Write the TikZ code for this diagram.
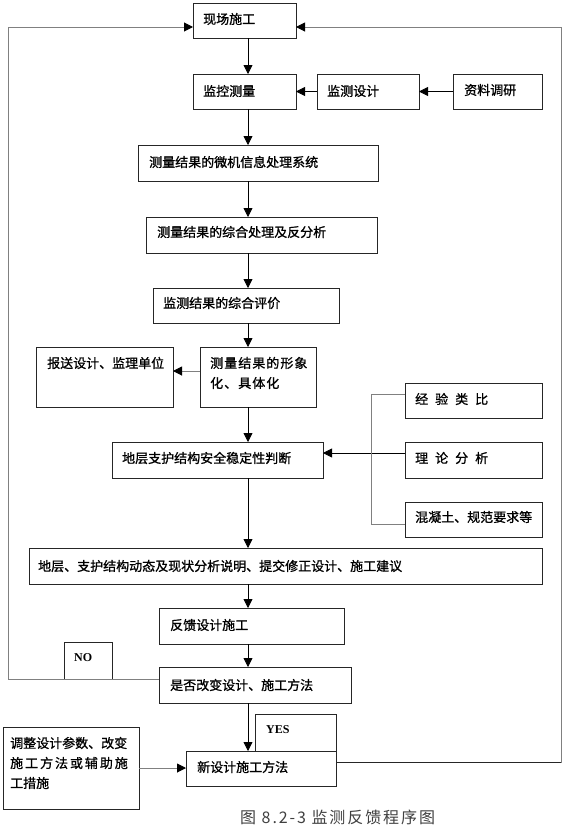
\documentclass[tikz,border=0pt]{standalone}
\usepackage{fontspec}
\usetikzlibrary{arrows.meta,calc}
\newfontfamily\cjk{Noto Sans CJK SC}[FakeBold=1]
\newfontfamily\cjkcap{Noto Sans CJK SC}
\newfontfamily\latser{Liberation Serif}
\begin{document}
\begin{tikzpicture}[x=1pt,y=-1pt,
  box/.style={draw=black!85,line width=0.8pt,inner sep=0pt,outer sep=0pt,anchor=north west},
  txt/.style={anchor=west,inner sep=0pt,font=\cjk\fontsize{13}{15}\selectfont},
  arr/.style={-{Triangle[length=9pt,width=9pt,color=black]},line width=0.8pt,black},
  loopline/.style={line width=1pt,black!50},
  garr/.style={-{Triangle[length=9pt,width=9pt,color=black]},line width=1pt,black!50},
]
\useasboundingbox (0,0) rectangle (576,833);
\fill[white] (0,0) rectangle (576,833);
% boxes
\node[box,minimum width=103pt,minimum height=35pt] (xc) at (193,3) {};
\node[box,minimum width=103pt,minimum height=35pt] (jk) at (193,74) {};
\node[box,minimum width=102pt,minimum height=35pt] (jcsj) at (317,74) {};
\node[box,minimum width=89pt,minimum height=35pt] (zl) at (453,74) {};
\node[box,minimum width=240pt,minimum height=36pt] (wj) at (138,145) {};
\node[box,minimum width=231pt,minimum height=36pt] (zh) at (146,217) {};
\node[box,minimum width=186pt,minimum height=35pt] (pj) at (153,288) {};
\node[box,minimum width=116pt,minimum height=60pt] (xx) at (200,347) {};
\node[box,minimum width=137pt,minimum height=60pt] (bs) at (36,347) {};
\node[box,minimum width=211pt,minimum height=36pt] (wd) at (112,442) {};
\node[box,minimum width=137pt,minimum height=35pt] (jy) at (405,383) {};
\node[box,minimum width=137pt,minimum height=36pt] (ll) at (405,442) {};
\node[box,minimum width=137pt,minimum height=35pt] (hn) at (405,502) {};
\node[box,minimum width=513pt,minimum height=36pt] (dt) at (29,548) {};
\node[box,minimum width=185pt,minimum height=36pt] (fk) at (159,608) {};
\node[box,minimum width=48pt,minimum height=37pt] (nob) at (64,642) {};
\node[box,minimum width=192pt,minimum height=36pt] (sf) at (159,667) {};
\node[box,minimum width=81pt,minimum height=37pt] (yesb) at (255,714) {};
\node[box,minimum width=150pt,minimum height=35pt] (xsj) at (186,751) {};
\node[box,minimum width=136pt,minimum height=82pt] (tz) at (3,727) {};
% texts
\node[txt] (t-xc) at (203,19) {现场施工};
\node[txt] (t-jk) at (203,91) {监控测量};
\node[txt] (t-jcsj) at (327,91) {监测设计};
\node[txt] (t-zl) at (464,90) {资料调研};
\node[txt] (t-wj) at (149,162) {测量结果的微机信息处理系统};
\node[txt] (t-zh) at (157,232) {测量结果的综合处理及反分析};
\node[txt] (t-pj) at (163,303) {监测结果的综合评价};
\node[txt,font=\cjk\fontsize{13}{15}\selectfont\addfontfeature{LetterSpace=8}] (t-xx1) at (210,363) {测量结果的形象};
\node[txt,font=\cjk\fontsize{13}{15}\selectfont\addfontfeature{LetterSpace=8}] (t-xx2) at (210,383) {化、具体化};
\node[txt] (t-bs) at (47,363) {报送设计、监理单位};
\node[txt] (t-wd) at (122,458) {地层支护结构安全稳定性判断};
\node[txt] (t-jy) at (415,399) {经\hspace{7pt}验\hspace{7pt}类\hspace{7pt}比};
\node[txt] (t-ll) at (415,458) {理\hspace{7pt}论\hspace{7pt}分\hspace{7pt}析};
\node[txt] (t-hn) at (415,517) {混凝土、规范要求等};
\node[txt] (t-dt) at (38,566) {地层、支护结构动态及现状分析说明、提交修正设计、施工建议};
\node[txt] (t-fk) at (170,625) {反馈设计施工};
\node[txt] (t-sf) at (170,685) {是否改变设计、施工方法};
\node[txt] (t-xsj) at (197,767) {新设计施工方法};
\node[txt] (t-tz1) at (10,743) {调整设计参数、改变};
\node[txt,font=\cjk\fontsize{13}{15}\selectfont\addfontfeature{LetterSpace=15}] (t-tz2) at (10,763) {施工方法或辅助施};
\node[txt] (t-tz3) at (10,783) {工措施};
\node[anchor=west,inner sep=0pt,font=\latser\bfseries\fontsize{12}{14}\selectfont] (t-no) at (74,658) {NO};
\node[anchor=west,inner sep=0pt,font=\latser\bfseries\fontsize{12}{14}\selectfont] (t-yes) at (266,730) {YES};
\node[anchor=west,inner sep=0pt,text=black!75,font=\cjkcap\fontsize{16}{18}\selectfont\addfontfeature{LetterSpace=12}] (cap) at (240,817) {图 8.2-3 监测反馈程序图};
% helper coordinates
\coordinate (cx) at (248,0);
\coordinate (lx) at (8,0);
\coordinate (rx) at (561,0);
\coordinate (ty) at (0,27);
\coordinate (brx) at (371,0);
\coordinate (jyw) at ($(jy.west)+(0,-6)$);
\coordinate (hnw) at ($(hn.west)+(0,5)$);
\coordinate (llw) at ($(ll.west)+(0,-7)$);
\coordinate (xxw) at ($(xx.west)+(0,-6)$);
\coordinate (xsje) at ($(xsj.east)+(0,-6)$);
% main vertical arrows
\draw[arr] (xc.south -| cx) -- (jk.north -| cx);
\draw[arr] (jk.south -| cx) -- (wj.north -| cx);
\draw[arr] (wj.south -| cx) -- (zh.north -| cx);
\draw[arr] (zh.south -| cx) -- (pj.north -| cx);
\draw[arr] (pj.south -| cx) -- (xx.north -| cx);
\draw[arr] (xx.south -| cx) -- (wd.north -| cx);
\draw[arr] (wd.south -| cx) -- (dt.north -| cx);
\draw[arr] (dt.south -| cx) -- (fk.north -| cx);
\draw[arr] (fk.south -| cx) -- (sf.north -| cx);
\draw[arr] (sf.south -| cx) -- (xsj.north -| cx);
% side arrows
\draw[arr] (jcsj.west) -- (jk.east |- jcsj.west);
\draw[arr] (zl.west) -- (jcsj.east |- zl.west);
\draw[garr] (xxw) -- (bs.east |- xxw);
\draw[arr] (llw) -- (wd.east |- llw);
\draw[loopline] (jyw) -- (brx |- jyw) -- (brx |- hnw) -- (hnw);
\draw[garr] (tz.east) -- (xsj.west |- tz.east);
% feedback loops
\draw[garr] (sf.west |- nob.south) -- (lx |- nob.south) -- (lx |- ty) -- (xc.west |- ty);
\draw[line width=0.8pt,black!85] (xsje) -- (rx |- xsje);
\draw[garr] (rx |- xsje) -- (rx |- ty) -- (xc.east |- ty);
\end{tikzpicture}
\end{document}
